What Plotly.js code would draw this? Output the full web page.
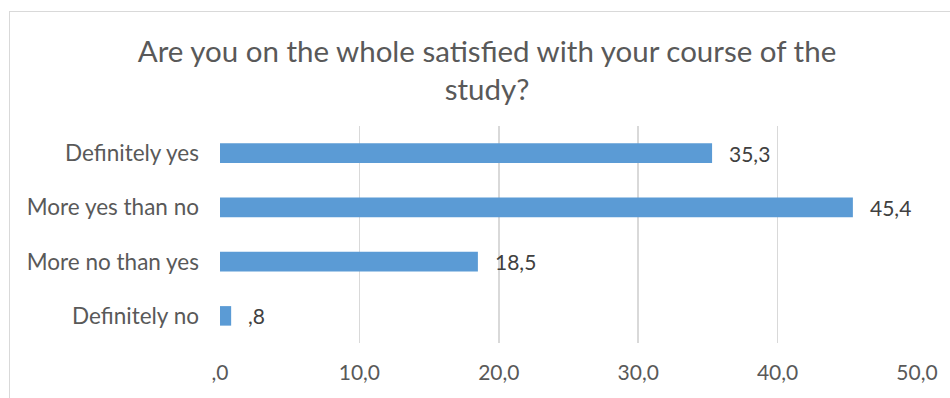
<!DOCTYPE html>
<html>
<head>
<meta charset="utf-8">
<script src="https://cdn.plot.ly/plotly-3.0.1.min.js"></script>
<style>
  body { margin: 0; background: #fff; }
  #wrap { position: relative; width: 950px; height: 398px; overflow: hidden; }
  #chart { width: 950px; height: 398px; }
  #frame { position: absolute; left: 9px; top: 11px; width: 1000px; height: 500px;
           border-left: 1px solid #D9D9D9; border-top: 1px solid #D9D9D9; pointer-events: none; }
</style>
</head>
<body>
<div id="wrap">
  <div id="chart"></div>
  <div id="frame"></div>
</div>
<script>
const categories = ["Definitely yes", "More yes than no", "More no than yes", "Definitely no"];
const values = [35.3, 45.4, 18.5, 0.8];
const tickValues = [0, 10, 20, 30, 40, 50];
const tickLabels = [",0", "10,0", "20,0", "30,0", "40,0", "50,0"];
const chartTitle = "Are you on the whole satisfied with your course of the<br>study?";

function fmt(v) {
  let s = v.toFixed(1).replace(".", ",");
  if (s.startsWith("0,")) s = s.slice(1);
  return s;
}

const FONT = "Lato, 'Open Sans', sans-serif";

const trace = {
  type: "bar",
  orientation: "h",
  x: values,
  y: categories,
  marker: { color: "#5B9BD5" },
  hoverinfo: "none"
};

const annotations = values.map((v, i) => ({
  x: v, y: categories[i], xref: "x", yref: "y",
  text: fmt(v), showarrow: false, xanchor: "left", yanchor: "middle",
  xshift: 15, font: { family: FONT, size: 21, color: "#404040" }
}));

const layout = {
  width: 950, height: 398,
  paper_bgcolor: "#fff", plot_bgcolor: "#fff",
  margin: { l: 220, r: 33, t: 126, b: 55 },
  bargap: 0.64,
  showlegend: false,
  title: {
    text: chartTitle,
    font: { family: FONT, size: 29.5, color: "#595959" },
    xref: "container", x: 487/950, xanchor: "center",
    yref: "container", y: 1 - 62/398, yanchor: "top"
  },
  xaxis: {
    range: [0, 50],
    tickvals: tickValues, ticktext: tickLabels,
    showgrid: true, gridcolor: "#D9D9D9", gridwidth: 1.5,
    zeroline: false, showline: false,
    ticks: "", ticklabelstandoff: 15,
    tickfont: { family: FONT, size: 21, color: "#595959" },
    fixedrange: true
  },
  yaxis: {
    autorange: "reversed",
    showgrid: false, zeroline: false, showline: false,
    ticks: "", ticklabelstandoff: 20,
    tickfont: { family: FONT, size: 22.5, color: "#595959" },
    fixedrange: true
  },
  annotations: annotations
};

Plotly.newPlot("chart", [trace], layout, { displayModeBar: false, staticPlot: true });
</script>
</body>
</html>
